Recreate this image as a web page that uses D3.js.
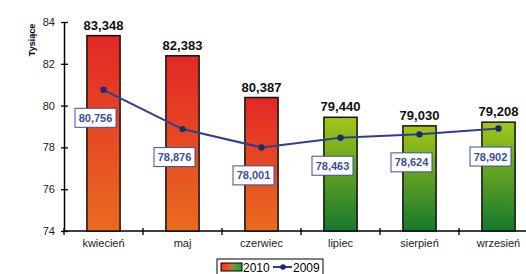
<!DOCTYPE html>
<html>
<head>
<meta charset="utf-8">
<script src="https://cdn.jsdelivr.net/npm/d3@7"></script>
<style>
  body { margin: 0; background: #fff; }
  svg { font-family: "Liberation Sans", Arial, sans-serif; }
</style>
</head>
<body>
<div id="chart"></div>
<script>
// Data (thousands)
const months = ["kwiecień", "maj", "czerwiec", "lipiec", "sierpień", "wrzesień"];
const values2010 = [83.348, 82.383, 80.387, 79.440, 79.030, 79.208];
const values2009 = [80.756, 78.876, 78.001, 78.463, 78.624, 78.902];
const yTicks = [74, 76, 78, 80, 82, 84];
// first three bars are red, the rest green
const barKind = ["red", "red", "red", "green", "green", "green"];

const width = 526, height = 274;
const fmt = v => d3.format(",.3f")(v).replace(".", ",");

const svg = d3.select("#chart")
  .append("svg")
  .attr("width", width)
  .attr("height", height);

// Gradients for bars and legend swatch
const defs = svg.append("defs");
const redGrad = defs.append("linearGradient").attr("id", "gradRed")
  .attr("x1", 0).attr("y1", 0).attr("x2", 0).attr("y2", 1);
redGrad.append("stop").attr("offset", "0%").attr("stop-color", "#e32826");
redGrad.append("stop").attr("offset", "100%").attr("stop-color", "#ea6b20");

const greenGrad = defs.append("linearGradient").attr("id", "gradGreen")
  .attr("x1", 0).attr("y1", 0).attr("x2", 0).attr("y2", 1);
greenGrad.append("stop").attr("offset", "0%").attr("stop-color", "#a3c617");
greenGrad.append("stop").attr("offset", "100%").attr("stop-color", "#17782f");

const legGrad = defs.append("linearGradient").attr("id", "gradLegend")
  .attr("x1", 0).attr("y1", 0).attr("x2", 1).attr("y2", 0);
legGrad.append("stop").attr("offset", "0%").attr("stop-color", "#e43326");
legGrad.append("stop").attr("offset", "45%").attr("stop-color", "#e8632a");
legGrad.append("stop").attr("offset", "60%").attr("stop-color", "#5aa83a");
legGrad.append("stop").attr("offset", "100%").attr("stop-color", "#2b8f3a");

// Scales
const x = d3.scaleBand()
  .domain(months)
  .range([64, 538])
  .paddingInner(0.58)
  .paddingOuter(0.29);

const step = x.step();

const y = d3.scaleLinear()
  .domain([74, 84])
  .range([231, 22]);

// Y axis
const yAxis = svg.append("g")
  .attr("transform", "translate(64,0)")
  .call(d3.axisLeft(y).tickValues(yTicks).tickSize(0).tickPadding(9));
yAxis.select(".domain").attr("stroke", "#000").attr("stroke-width", 1.5);
yAxis.selectAll(".tick text")
  .style("font-size", "11px")
  .attr("fill", "#222");
yAxis.selectAll(".tick").append("line")
  .attr("x1", -3).attr("x2", 4)
  .attr("stroke", "#000").attr("stroke-width", 1.3);

svg.append("text")
  .attr("transform", "translate(35,40) rotate(-90)")
  .attr("text-anchor", "middle")
  .style("font-size", "9px")
  .style("font-weight", "bold")
  .text("Tysiące");

// X axis
svg.append("line")
  .attr("x1", 64).attr("x2", 538)
  .attr("y1", y(74)).attr("y2", y(74))
  .attr("stroke", "#000").attr("stroke-width", 1.5);

svg.selectAll(".xtick")
  .data(months)
  .enter()
  .append("line")
  .attr("class", "xtick")
  .attr("x1", d => x(d) - (step - x.bandwidth()) / 2)
  .attr("x2", d => x(d) - (step - x.bandwidth()) / 2)
  .attr("y1", y(74) - 3)
  .attr("y2", y(74) + 4)
  .attr("stroke", "#000").attr("stroke-width", 1.3);

svg.selectAll(".xlabel")
  .data(months)
  .enter()
  .append("text")
  .attr("class", "xlabel")
  .attr("x", d => x(d) + x.bandwidth() / 2)
  .attr("y", 247)
  .attr("text-anchor", "middle")
  .style("font-size", "11px")
  .attr("fill", "#222")
  .text(d => d);

// Bars
svg.selectAll(".bar")
  .data(values2010)
  .enter()
  .append("rect")
  .attr("class", "bar")
  .attr("x", (d, i) => x(months[i]))
  .attr("y", d => y(d))
  .attr("width", x.bandwidth())
  .attr("height", d => y(74) - y(d))
  .attr("fill", (d, i) => barKind[i] === "red" ? "url(#gradRed)" : "url(#gradGreen)")
  .attr("stroke", "#111")
  .attr("stroke-width", 1.5);

// Bar value labels
svg.selectAll(".barLabel")
  .data(values2010)
  .enter()
  .append("text")
  .attr("class", "barLabel")
  .attr("x", (d, i) => x(months[i]) + x.bandwidth() / 2)
  .attr("y", d => y(d) - 6)
  .attr("text-anchor", "middle")
  .style("font-size", "13px")
  .style("font-weight", "bold")
  .attr("fill", "#111")
  .text(d => fmt(d));

// 2009 line
const line = d3.line()
  .x((d, i) => x(months[i]) + x.bandwidth() / 2)
  .y(d => y(d));

svg.append("path")
  .datum(values2009)
  .attr("d", line)
  .attr("fill", "none")
  .attr("stroke", "#2e3f92")
  .attr("stroke-width", 2);

svg.selectAll(".dot")
  .data(values2009)
  .enter()
  .append("circle")
  .attr("class", "dot")
  .attr("cx", (d, i) => x(months[i]) + x.bandwidth() / 2)
  .attr("cy", d => y(d))
  .attr("r", 3.2)
  .attr("fill", "#1f2a6c");

// 2009 value labels in boxes
const boxW = 41, boxH = 19;
const lab = svg.selectAll(".lineLabel")
  .data(values2009)
  .enter()
  .append("g")
  .attr("class", "lineLabel")
  .attr("transform", (d, i) =>
    `translate(${x(months[i]) + x.bandwidth() / 2 - 8}, ${y(d) + 28})`);

lab.append("rect")
  .attr("x", -boxW / 2)
  .attr("y", -boxH / 2)
  .attr("width", boxW)
  .attr("height", boxH)
  .attr("fill", "#fff")
  .attr("stroke", "#3a4e9e")
  .attr("stroke-width", 1);

lab.append("text")
  .attr("text-anchor", "middle")
  .attr("dy", "0.36em")
  .style("font-size", "11px")
  .style("font-weight", "bold")
  .attr("fill", "#3a4ea0")
  .text(d => fmt(d));

// Legend
const legend = svg.append("g").attr("transform", "translate(217,259)");
legend.append("rect")
  .attr("width", 106).attr("height", 20)
  .attr("fill", "#fff")
  .attr("stroke", "#000").attr("stroke-width", 1);
legend.append("rect")
  .attr("x", 4).attr("y", 4).attr("width", 21).attr("height", 8)
  .attr("fill", "url(#gradLegend)")
  .attr("stroke", "#000").attr("stroke-width", 1);
legend.append("text")
  .attr("x", 26).attr("y", 13)
  .style("font-size", "12px")
  .text("2010");
legend.append("line")
  .attr("x1", 56).attr("x2", 75)
  .attr("y1", 8).attr("y2", 8)
  .attr("stroke", "#2e3f92").attr("stroke-width", 2);
legend.append("circle")
  .attr("cx", 66).attr("cy", 8).attr("r", 2.8)
  .attr("fill", "#1f2a6c");
legend.append("text")
  .attr("x", 76).attr("y", 13)
  .style("font-size", "12px")
  .text("2009");
</script>
</body>
</html>
